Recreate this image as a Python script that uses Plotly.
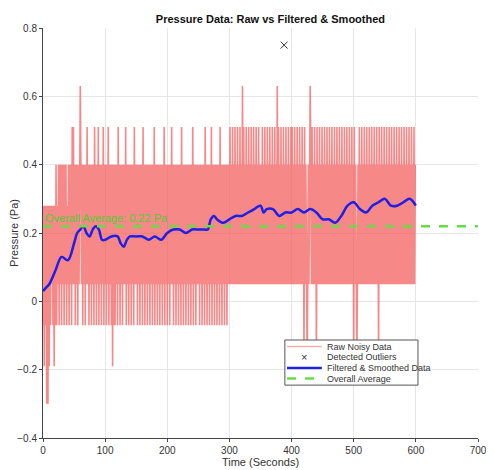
import plotly.graph_objects as go

levels = [-0.30, -0.19, -0.07, 0.05, 0.17, 0.28, 0.40, 0.51, 0.63, 0.75]
raw_codes = (
    "25152505251525352515262536263626362636253626362737"
    "36263626372636263626373626362636273626372636263726"
    "36263726362636262636273626362636372636263626362736"
    "36263626362736263626362636263726362636263626372636"
    "26362637362636263626362736263626362636263726362636"
    "36263626362736263626372636263626362736263626362636"
    "37363736373637363736383736373637363736373637363736"
    "36373637363736373637363736383736373637363736373637"
    "37363736373637363736373637363736373637363736373637"
    "36373637363736373637363736373637363736373637363736"
    "37363736373637363736373637363736373637363736373637"
    "36373637363736373637363736373637363736373637363736"
)
raw_t = list(range(len(raw_codes)))
raw_p = [levels[int(c)] for c in raw_codes]
spikes_t = [8, 112, 60, 420, 425, 440, 500, 505, 540, 430]
spikes_code = [0, 1, 8, 1, 1, 1, 1, 1, 1, 8]
for t, c in zip(spikes_t, spikes_code):
    raw_p[t] = levels[c]

smooth_t = [0, 5, 10, 20, 30, 40, 50, 55, 60, 65, 70, 75, 80, 85, 90, 95, 100, 110, 120, 125,
            130, 135, 140, 150, 160, 170, 180, 190, 200, 210, 220, 230, 240, 250, 260, 265,
            270, 275, 280, 290, 300, 310, 320, 330, 340, 350, 355, 360, 370, 380, 390, 400,
            410, 420, 430, 440, 450, 460, 470, 480, 490, 500, 510, 520, 530, 540, 550, 560,
            570, 580, 590, 600]
smooth_p = [0.03, 0.04, 0.05, 0.09, 0.13, 0.12, 0.17, 0.20, 0.21, 0.22, 0.20, 0.19, 0.21, 0.22,
            0.21, 0.18, 0.18, 0.19, 0.19, 0.17, 0.16, 0.18, 0.19, 0.19, 0.19, 0.18, 0.19, 0.18,
            0.20, 0.21, 0.21, 0.20, 0.21, 0.21, 0.21, 0.21, 0.24, 0.25, 0.24, 0.23, 0.24, 0.25,
            0.25, 0.26, 0.27, 0.28, 0.26, 0.27, 0.27, 0.25, 0.26, 0.26, 0.27, 0.26, 0.27, 0.26,
            0.24, 0.24, 0.23, 0.25, 0.28, 0.29, 0.27, 0.26, 0.28, 0.29, 0.30, 0.28, 0.28, 0.29,
            0.30, 0.28]
outlier_t = [388]
outlier_p = [0.75]
avg = 0.22
legend_names = ["Raw Noisy Data", "Detected Outliers", "Filtered & Smoothed Data", "Overall Average"]

RAW_C = "rgba(242,90,90,0.72)"
BLUE = "#1f1fe6"
GREEN = "#66dd44"

fig = go.Figure()
fig.add_trace(go.Scatter(x=raw_t, y=raw_p, mode="lines", name=legend_names[0],
                         line=dict(color=RAW_C, width=1.6)))
fig.add_trace(go.Scatter(x=outlier_t, y=outlier_p, mode="markers", name=legend_names[1],
                         marker=dict(symbol="x-thin", size=7, line=dict(color="#333", width=1))))
fig.add_trace(go.Scatter(x=smooth_t, y=smooth_p, mode="lines", name=legend_names[2],
                         line=dict(color=BLUE, width=2.5, shape="spline")))
fig.add_trace(go.Scatter(x=[0, 700], y=[avg, avg], mode="lines", name=legend_names[3],
                         line=dict(color=GREEN, width=2.5, dash="dash")))
fig.add_annotation(x=0, y=avg, xanchor="left", yanchor="bottom", showarrow=False,
                   text="Overall Average: 0.22 Pa", font=dict(color="#55cc33", size=11))

# custom compact legend (paper coords)
lx0, lx1, ly1, row = 0.556, 0.862, 0.239, 0.026
ly0 = ly1 - 4 * row - 0.006
fig.add_shape(type="rect", xref="paper", yref="paper", x0=lx0, x1=lx1, y0=ly0, y1=ly1,
              line=dict(color="#555", width=1), fillcolor="white", layer="above")
styles = [dict(color="rgba(242,120,120,0.6)", width=1.5), None,
          dict(color=BLUE, width=2.5), dict(color=GREEN, width=2.5, dash="dash")]
for i, name in enumerate(legend_names):
    yc = ly1 - 0.003 - row * (i + 0.5)
    if styles[i] is not None:
        fig.add_shape(type="line", xref="paper", yref="paper", x0=lx0 + 0.005, x1=lx0 + 0.085,
                      y0=yc, y1=yc, line=styles[i], layer="above")
    else:
        fig.add_annotation(xref="paper", yref="paper", x=lx0 + 0.045, y=yc, text="×",
                           yanchor="middle", borderpad=0,
                           showarrow=False, font=dict(size=11, color="#333"))
    fig.add_annotation(xref="paper", yref="paper", x=lx0 + 0.095, y=yc, text=name,
                       xanchor="left", yanchor="middle", borderpad=0,
                       showarrow=False, font=dict(size=9, color="#333"))

fig.update_layout(
    width=486, height=462, margin=dict(l=35, r=16, t=20, b=32),
    paper_bgcolor="white", plot_bgcolor="white",
    font=dict(family="Liberation Sans, Arial", size=10, color="#333"),
    title=dict(text="<b>Pressure Data: Raw vs Filtered & Smoothed</b>", x=0.54, y=0.985,
               font=dict(size=11, color="#111")),
    xaxis=dict(range=[0, 700], dtick=100, showgrid=True, gridcolor="#e6e6e6", zeroline=False,
               showline=True, linecolor="#444", ticks="outside", ticklen=3, automargin=False,
               title=dict(text="Time (Seconds)", standoff=2, font=dict(size=11))),
    yaxis=dict(range=[-0.4, 0.8], dtick=0.2, showgrid=True, gridcolor="#e6e6e6", zeroline=False,
               showline=True, linecolor="#444", ticks="outside", ticklen=3, automargin=False,
               title=dict(text="Pressure (Pa)", standoff=4, font=dict(size=11))),
    showlegend=False,
)
fig.write_html("out.html")
